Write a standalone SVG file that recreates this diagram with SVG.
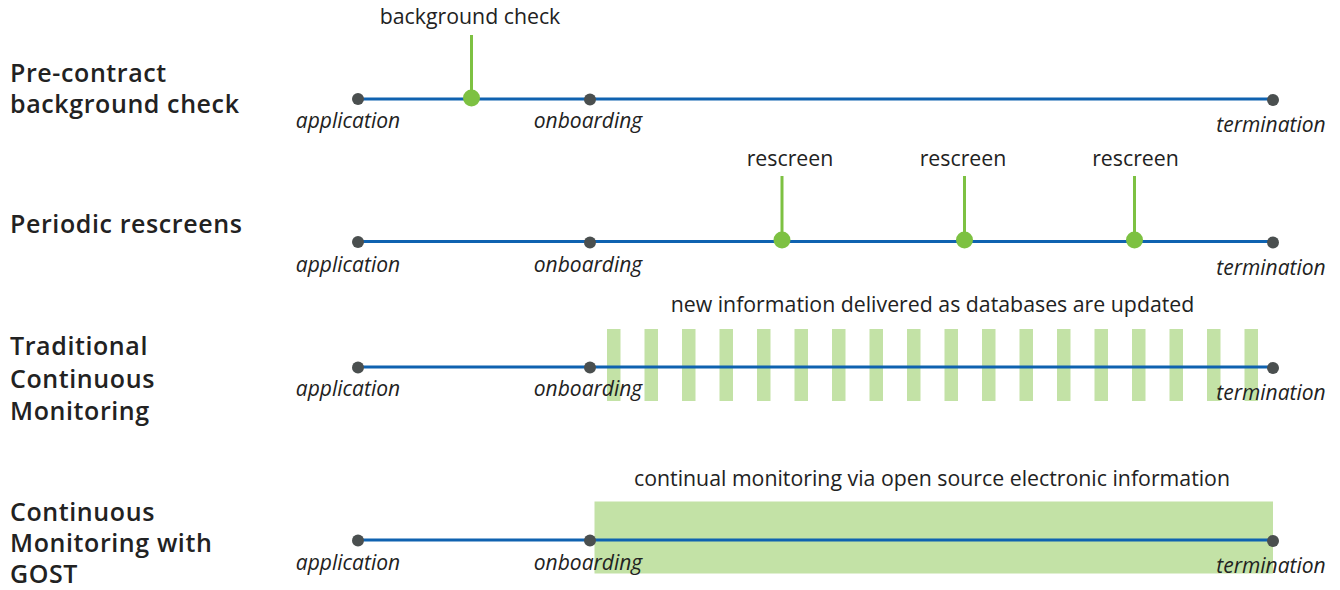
<svg xmlns="http://www.w3.org/2000/svg" width="1340" height="590" viewBox="0 0 1340 590">
<style>
.lbl{font-family:"Open Sans","Liberation Sans",sans-serif;font-size:25px;font-weight:600;letter-spacing:0.6px;fill:#222}
.ev{font-family:"Open Sans","Liberation Sans",sans-serif;font-size:21px;font-style:italic;fill:#222;text-anchor:middle}
.cap{font-family:"Open Sans","Liberation Sans",sans-serif;font-size:21.3px;fill:#222;text-anchor:middle}
.tl{stroke:#0f62b0;stroke-width:3;fill:none}
.stem{stroke:#7dc142;stroke-width:3}
.dot{fill:#4a4f4f}
.gdot{fill:#7dc142}
.band{fill:#c3e2a6}
</style>
<rect width="1340" height="590" fill="#ffffff"/>

<g id="row1">
  <text class="lbl" x="10" y="82">Pre-contract</text>
  <text class="lbl" x="10" y="113">background check</text>
  <line class="tl" x1="358" y1="99" x2="1273" y2="99"/>
  <line class="stem" x1="471.5" y1="35" x2="471.5" y2="98"/>
  <circle class="dot" cx="358" cy="99" r="6"/>
  <circle class="dot" cx="590" cy="99.5" r="6"/>
  <circle class="dot" cx="1273" cy="100" r="6"/>
  <circle class="gdot" cx="471.5" cy="98" r="8.5"/>
  <text class="cap" x="470" y="24">background check</text>
  <text class="ev" x="348" y="128">application</text>
  <text class="ev" x="588" y="128">onboarding</text>
  <text class="ev" x="1271" y="132">termination</text>
</g>

<g id="row2">
  <text class="lbl" x="10" y="233">Periodic rescreens</text>
  <line class="tl" x1="358" y1="241.5" x2="1273" y2="241.5"/>
  <line class="stem" x1="782" y1="176" x2="782" y2="240"/>
  <line class="stem" x1="964.5" y1="176" x2="964.5" y2="240"/>
  <line class="stem" x1="1134.5" y1="176" x2="1134.5" y2="240"/>
  <circle class="dot" cx="358" cy="242" r="6"/>
  <circle class="dot" cx="590" cy="242.5" r="6"/>
  <circle class="dot" cx="1273" cy="242.5" r="6"/>
  <circle class="gdot" cx="782" cy="240" r="8.5"/>
  <circle class="gdot" cx="964.5" cy="240" r="8.5"/>
  <circle class="gdot" cx="1134.5" cy="240" r="8.5"/>
  <text class="cap" x="790" y="166">rescreen</text>
  <text class="cap" x="963" y="166">rescreen</text>
  <text class="cap" x="1135.5" y="166">rescreen</text>
  <text class="ev" x="348" y="272">application</text>
  <text class="ev" x="588" y="272">onboarding</text>
  <text class="ev" x="1271" y="275">termination</text>
</g>

<g id="row3">
  <text class="lbl" x="10" y="355">Traditional</text>
  <text class="lbl" x="10" y="388">Continuous</text>
  <text class="lbl" x="10" y="420">Monitoring</text>
  <g id="stripes" class="band">
    <rect x="607" y="329" width="13.5" height="72"/>
    <rect x="644.5" y="329" width="13.5" height="72"/>
    <rect x="682" y="329" width="13.5" height="72"/>
    <rect x="719.5" y="329" width="13.5" height="72"/>
    <rect x="757" y="329" width="13.5" height="72"/>
    <rect x="794.5" y="329" width="13.5" height="72"/>
    <rect x="832" y="329" width="13.5" height="72"/>
    <rect x="869.5" y="329" width="13.5" height="72"/>
    <rect x="907" y="329" width="13.5" height="72"/>
    <rect x="944.5" y="329" width="13.5" height="72"/>
    <rect x="982" y="329" width="13.5" height="72"/>
    <rect x="1019.5" y="329" width="13.5" height="72"/>
    <rect x="1057" y="329" width="13.5" height="72"/>
    <rect x="1094.5" y="329" width="13.5" height="72"/>
    <rect x="1132" y="329" width="13.5" height="72"/>
    <rect x="1169.5" y="329" width="13.5" height="72"/>
    <rect x="1207" y="329" width="13.5" height="72"/>
    <rect x="1244.5" y="329" width="13.5" height="72"/>
  </g>
  <line class="tl" x1="358" y1="367" x2="1273" y2="367"/>
  <circle class="dot" cx="358" cy="367.5" r="6"/>
  <circle class="dot" cx="590" cy="367.5" r="6"/>
  <circle class="dot" cx="1273" cy="368" r="6"/>
  <text class="cap" x="932.5" y="312">new information delivered as databases are updated</text>
  <text class="ev" x="348" y="396">application</text>
  <text class="ev" x="588" y="396">onboarding</text>
  <text class="ev" x="1271" y="400">termination</text>
</g>

<g id="row4">
  <text class="lbl" x="10" y="521">Continuous</text>
  <text class="lbl" x="10" y="552">Monitoring with</text>
  <text class="lbl" x="10" y="583">GOST</text>
  <rect class="band" x="594.5" y="501.5" width="678.5" height="72"/>
  <line class="tl" x1="358" y1="540" x2="1273" y2="540"/>
  <circle class="dot" cx="358" cy="540.5" r="6"/>
  <circle class="dot" cx="590" cy="540.5" r="6"/>
  <circle class="dot" cx="1273" cy="541" r="6"/>
  <text class="cap" x="932" y="486">continual monitoring via open source electronic information</text>
  <text class="ev" x="348" y="570">application</text>
  <text class="ev" x="588" y="570">onboarding</text>
  <text class="ev" x="1271" y="573">termination</text>
</g>
</svg>
